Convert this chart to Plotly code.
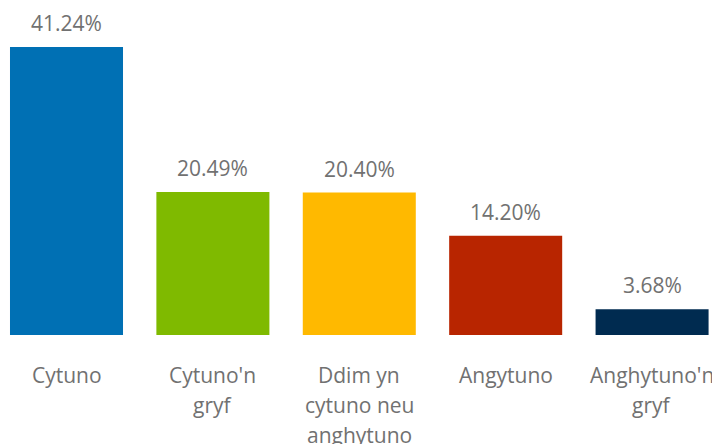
import plotly.graph_objects as go

categories = ["Cytuno", "Cytuno'n gryf", "Ddim yn cytuno neu anghytuno", "Angytuno", "Anghytuno'n gryf"]
label_lines = [["Cytuno"], ["Cytuno'n", "gryf"], ["Ddim yn", "cytuno neu", "anghytuno"], ["Angytuno"], ["Anghytuno'n", "gryf"]]
values = [41.24, 20.49, 20.40, 14.20, 3.68]
colors = ["#0070B4", "#7FBA00", "#FFB900", "#B82500", "#002B50"]

FONT = "Open Sans, Segoe UI, sans-serif"
TXT = "#717171"

fig = go.Figure(go.Bar(
    x=list(range(len(categories))), y=values,
    marker=dict(color=colors, line=dict(width=0)),
    hoverinfo="skip",
))

ann = []
for i, v in enumerate(values):
    ann.append(dict(x=i, y=v, xref="x", yref="y", text=f"{v:.2f}%", showarrow=False,
                    yshift=24, font=dict(family=FONT, size=21, color=TXT)))
for i, lines in enumerate(label_lines):
    for j, line in enumerate(lines):
        ann.append(dict(x=i, y=0, xref="x", yref="y", text=line, showarrow=False,
                        yshift=-40 - 30 * j, font=dict(family=FONT, size=21, color=TXT)))

fig.update_layout(
    width=712, height=436,
    margin=dict(l=0, r=0, t=0, b=109),
    paper_bgcolor="white", plot_bgcolor="white",
    bargap=0.228,
    showlegend=False,
    xaxis=dict(range=[-0.3996, 4.464], visible=False, fixedrange=True),
    yaxis=dict(range=[0, 46.82], visible=False, fixedrange=True),
    annotations=ann,
)
fig.write_html("out.html")
